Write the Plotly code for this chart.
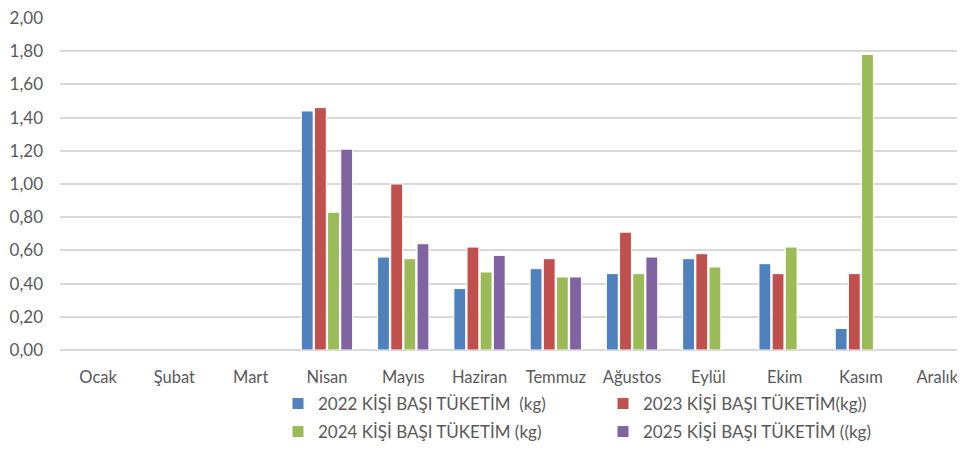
import plotly.graph_objects as go

months = ["Ocak", "Şubat", "Mart", "Nisan", "Mayıs", "Haziran", "Temmuz",
          "Ağustos", "Eylül", "Ekim", "Kasım", "Aralık"]

s2022 = [None, None, None, 1.44, 0.56, 0.37, 0.49, 0.46, 0.55, 0.52, 0.13, None]
s2023 = [None, None, None, 1.46, 1.00, 0.62, 0.55, 0.71, 0.58, 0.46, 0.46, None]
s2024 = [None, None, None, 0.83, 0.55, 0.47, 0.44, 0.46, 0.50, 0.62, 1.78, None]
s2025 = [None, None, None, 1.21, 0.64, 0.57, 0.44, 0.56, None, None, None, None]

y_ticks = [0.0, 0.2, 0.4, 0.6, 0.8, 1.0, 1.2, 1.4, 1.6, 1.8, 2.0]

names = ["2022 KİŞİ BAŞI TÜKETİM  (kg)", "2023 KİŞİ BAŞI TÜKETİM(kg))",
         "2024 KİŞİ BAŞI TÜKETİM (kg)", "2025 KİŞİ BAŞI TÜKETİM ((kg)"]
colors = ["#4F81BD", "#C0504D", "#9BBB59", "#8064A2"]
series = [s2022, s2023, s2024, s2025]
legend_ids = ["legend", "legend", "legend2", "legend2"]

fig = go.Figure()
for nm, vals, col, lg in zip(names, series, colors, legend_ids):
    fig.add_trace(go.Bar(x=list(range(len(months))), y=vals, name=nm, legend=lg,
                         marker=dict(color=col, line=dict(color="white", width=1))))

font = "Lato, Liberation Sans, sans-serif"
W, H = 949, 435
ml, mt, mb = 52, 10, 93
plot_w, plot_h = W - ml, H - mt - mb

def px_x(x):
    return (x - 8 - ml) / plot_w

def px_y(y):
    return (H - mb - (y - 8)) / plot_h

leg_common = dict(orientation="h", xanchor="left", yanchor="middle",
                  entrywidth=280, entrywidthmode="pixels", traceorder="normal",
                  font=dict(family=font, size=17, color="#595959"),
                  bgcolor="rgba(0,0,0,0)", borderwidth=0)

fig.update_layout(
    width=W, height=H,
    margin=dict(l=ml, r=0, t=mt, b=mb, autoexpand=False),
    paper_bgcolor="white", plot_bgcolor="white",
    barmode="group", bargap=0.31, bargroupgap=0.1,
    separators=",.",
    font=dict(family=font, size=17, color="#595959"),
    showlegend=True,
    legend=dict(x=px_x(278), y=px_y(404), **leg_common),
    legend2=dict(x=px_x(278), y=px_y(432), **leg_common),
    xaxis=dict(tickmode="array", tickvals=list(range(len(months))), ticktext=months,
               range=[-0.5, 11.26], showgrid=False, showline=False, zeroline=False,
               ticks="", ticklabelstandoff=15, fixedrange=True,
               ticklabeloverflow="allow",
               tickfont=dict(family=font, size=16.5, color="#595959")),
    yaxis=dict(range=[0, 2.0], tickmode="array", tickvals=y_ticks, tickformat=".2f",
               showgrid=True, gridcolor="#D9D9D9", gridwidth=1.5, zeroline=True,
               zerolinecolor="#D9D9D9", zerolinewidth=1.5, showline=False, ticks="",
               ticklabelstandoff=16, ticklabeloverflow="allow",
               tickfont=dict(family=font, size=17, color="#595959")),
)

fig.write_html("out.html")
